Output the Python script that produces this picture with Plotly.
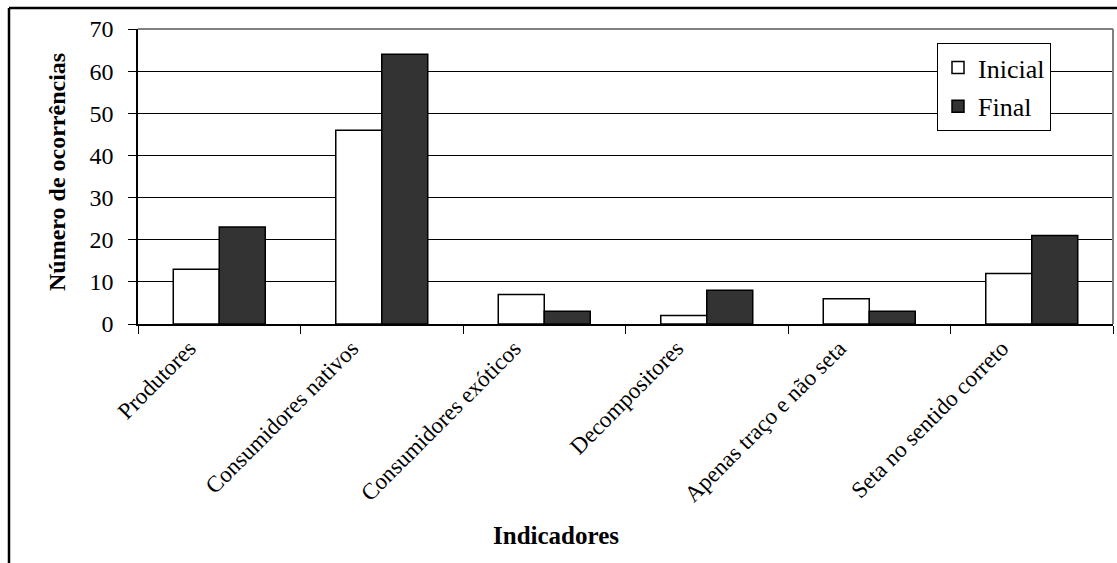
import plotly.graph_objects as go

# Indicator categories and occurrence counts
categorias = [
    "Produtores",
    "Consumidores nativos",
    "Consumidores exóticos",
    "Decompositores",
    "Apenas traço e não seta",
    "Seta no sentido correto",
]
inicial = [13, 46, 7, 2, 6, 12]
final = [23, 64, 3, 8, 3, 21]
y_ticks = [0, 10, 20, 30, 40, 50, 60, 70]

W, H = 1117, 563
ML, MR, MT, MB = 138, 4, 29, 239
PW = W - ML - MR
PH = H - MT - MB

def px_x(x):
    return (x - ML) / PW

def px_y(y):
    return (H - MB - y) / PH

FONT = "Liberation Serif"

fig = go.Figure()
fig.add_trace(go.Bar(
    x=categorias, y=inicial, name="Inicial", legendgroup="a",
    marker=dict(color="white", line=dict(color="black", width=1.5)),
))
fig.add_trace(go.Bar(
    x=categorias, y=final, name="Final", legendgroup="b",
    marker=dict(color="#333333", line=dict(color="black", width=1.5)),
))

fig.update_layout(
    width=W, height=H,
    margin=dict(l=ML, r=MR, t=MT, b=MB),
    paper_bgcolor="white", plot_bgcolor="white",
    barmode="group", bargap=0.434, bargroupgap=0,
    font=dict(family=FONT, color="black"),
    legend=dict(
        x=px_x(937), y=px_y(43), xanchor="left", yanchor="top",
        bgcolor="white", bordercolor="black", borderwidth=1,
        font=dict(size=26, family=FONT), tracegroupgap=2,
        itemwidth=30,
    ),
    xaxis=dict(
        type="category", tickangle=-45, tickson="boundaries",
        ticks="outside", ticklen=8, tickcolor="black",
        showline=True, linecolor="black", linewidth=1.5,
        showgrid=False, tickfont=dict(size=23, family=FONT),
        ticklabelshift=-30,
    ),
    yaxis=dict(
        range=[0, 70], tickvals=y_ticks, ticks="outside", ticklen=8,
        tickcolor="black", showline=True, linecolor="black", linewidth=1.5,
        showgrid=True, gridcolor="black", gridwidth=1, zeroline=False,
        tickfont=dict(size=24, family=FONT), ticklabelstandoff=10,
    ),
    shapes=[
        # plot area border (top and right)
        dict(type="line", xref="paper", yref="paper", x0=0, x1=1, y0=1, y1=1,
             line=dict(color="#808080", width=2)),
        dict(type="line", xref="paper", yref="paper", x0=1, x1=1, y0=0, y1=1,
             line=dict(color="#808080", width=2)),
        # outer chart frame
        dict(type="line", xref="paper", yref="paper",
             x0=px_x(9), x1=px_x(9), y0=px_y(H + 20), y1=px_y(8),
             line=dict(color="black", width=2.5)),
        dict(type="line", xref="paper", yref="paper",
             x0=px_x(9), x1=px_x(W + 20), y0=px_y(8), y1=px_y(8),
             line=dict(color="black", width=2.5)),
    ],
    annotations=[
        dict(text="<b>Número de ocorrências</b>", textangle=-90,
             xref="paper", yref="paper", x=px_x(57), y=px_y(172),
             xanchor="center", yanchor="middle", showarrow=False,
             font=dict(size=24, family=FONT)),
        dict(text="<b>Indicadores</b>",
             xref="paper", yref="paper", x=px_x(556), y=px_y(535),
             xanchor="center", yanchor="middle", showarrow=False,
             font=dict(size=25, family=FONT)),
    ],
)

fig.write_html("out.html")
